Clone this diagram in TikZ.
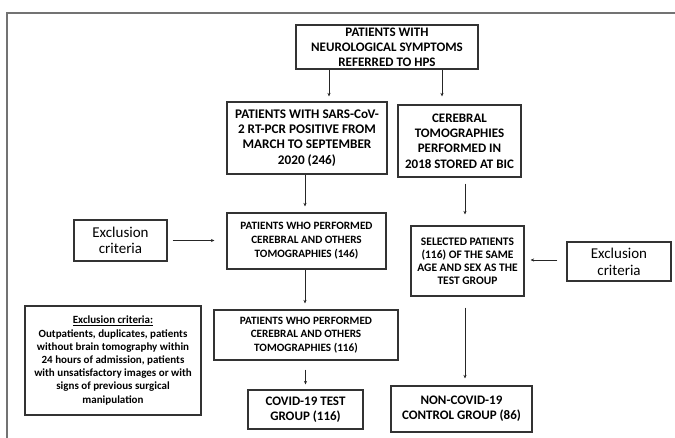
\documentclass[tikz,border=0pt]{standalone}
\usepackage{fontspec}
\setmainfont{Carlito}
\usetikzlibrary{arrows.meta}

\begin{document}
\begin{tikzpicture}[x=1pt,y=-1pt,
	box/.style={draw=black!80, line width=1.3pt, align=center, inner sep=0pt},
	flow/.style={-{Stealth[length=3.5pt,width=3.2pt]}, line width=0.8pt, draw=black!85},
	frame/.style={draw=black!55, line width=2pt}]
				\useasboundingbox (0,0) rectangle (675,438);
				% frame of the page
				\draw [frame] (6.7,438) -- (6.7,12.7) -- (675,12.7);
				
				% main column
				\node[box, minimum width=182pt, minimum height=44pt, font=\bfseries\fontsize{13}{15}\selectfont] (hps) at (387,47) {PATIENTS WITH\\NEUROLOGICAL SYMPTOMS\\REFERRED TO HPS};
				\node[box, minimum width=160pt, minimum height=72pt, font=\bfseries\fontsize{13.2}{15.2}\selectfont] (sars) at (307,138) {PATIENTS WITH SARS-CoV-\\2 RT-PCR POSITIVE FROM\\MARCH TO SEPTEMBER\\2020 (246)};
				\node[box, minimum width=123pt, minimum height=72pt, font=\bfseries\fontsize{13}{15.2}\selectfont] (bic) at (459.5,141) {CEREBRAL\\TOMOGRAPHIES\\PERFORMED IN\\2018 STORED AT BIC};
				\node[box, minimum width=159pt, minimum height=56pt, font=\bfseries\fontsize{11.2}{14}\selectfont] (tomo146) at (306.5,241) {PATIENTS WHO PERFORMED\\CEREBRAL\ AND OTHERS\\TOMOGRAPHIES (146)};
				\node[box, minimum width=184pt, minimum height=50pt, font=\bfseries\fontsize{11.2}{13.2}\selectfont] (tomo116) at (306,335) {PATIENTS WHO PERFORMED\\CEREBRAL\ AND OTHERS\\TOMOGRAPHIES (116)};
				\node[box, minimum width=115pt, minimum height=39pt, font=\bfseries\fontsize{13}{15}\selectfont] (covid) at (305.5,409.5) {COVID-19 TEST\\GROUP (116)};
				
				% control column
				\node[box, minimum width=113pt, minimum height=70pt, font=\bfseries\fontsize{11.5}{13}\selectfont] (sel) at (467.5,261) {SELECTED PATIENTS\\(116) OF THE SAME\\AGE AND SEX AS THE\\TEST GROUP};
				\node[box, minimum width=141pt, minimum height=46pt, font=\bfseries\fontsize{13}{15}\selectfont] (noncovid) at (461.5,409) {NON-COVID-19\\CONTROL GROUP (86)};
				
				% exclusions
				\node[box, minimum width=93pt, minimum height=41pt, font=\fontsize{15}{16}\selectfont] (exclL) at (120.5,240.5) {Exclusion\\criteria};
				\node[box, minimum width=104pt, minimum height=39pt, font=\fontsize{15}{17}\selectfont] (exclR) at (619,261.5) {Exclusion\\criteria};
				\node[box, minimum width=176pt, minimum height=109pt, font=\bfseries\fontsize{11}{13.2}\selectfont] (crit) at (113,360.5) {\underline{Exclusion criteria:}\\Outpatients, duplicates, patients\\without brain tomography within\\24 hours of admission, patients\\with unsatisfactory images or with\\signs of previous surgical\\manipulation};
				
				\coordinate (ka) at (329,0);
				\coordinate (kb) at (442,0);
				\coordinate (kc) at (305,0);
				\coordinate (kd) at (465,0);
				
				\draw [flow, shorten >=5pt] (hps.south -| ka) -- (sars.north -| ka);
				\draw [flow, shorten >=8pt] (hps.south -| kb) -- (bic.north -| kb);
				\draw [flow, shorten >=6pt] (sars.south -| kc) -- (tomo146.north -| kc);
				\draw [flow, shorten <=6pt, shorten >=11pt] (bic.south -| kd) -- (sel.north -| kd);
				\draw [flow, shorten <=5pt, shorten >=12pt] (exclL.east) -- (exclL.east -| tomo146.west);
				\draw [flow, shorten <=9pt, shorten >=6pt] (exclR.west |- 0,260) -- (sel.east |- 0,260);
				\draw [flow, shorten >=6pt] (tomo146.south -| kc) -- (tomo116.north -| kc);
				\draw [flow, shorten <=9pt, shorten >=5pt] (tomo116.south -| covid.north) -- (covid.north);
				\draw [flow, shorten <=11pt, shorten >=7pt] (sel.south -| kd) -- (noncovid.north -| kd);
			\end{tikzpicture}
\end{document}
